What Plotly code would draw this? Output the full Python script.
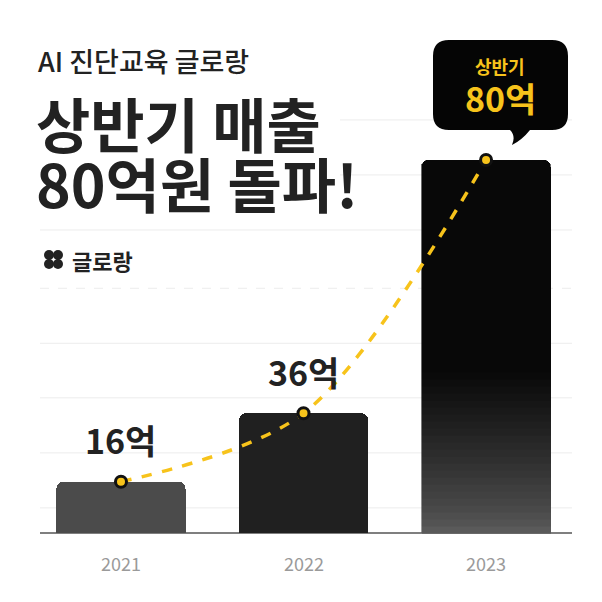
import plotly.graph_objects as go

years = ["2021", "2022", "2023"]
revenue = [16, 36, 80]              # 억, shown in labels
bar_height = [11, 25.7, 80]         # drawn heights (stylised)
label_text = ["16억", "36억"]

FONT = "Noto Sans CJK KR"
YELLOW = "#f7c31b"
X = [0, 1, 2]
OFF = 8  # page body margin


def px(x):
    return (x - OFF) / 602


def py(y):
    return 1 - (y - OFF) / 602


fig = go.Figure()

# bars: 2021 flat grey, 2022 dark, 2023 black with grey fade at bottom (stacked slices)
fig.add_trace(go.Bar(x=[0], y=[bar_height[0]], width=0.707, marker=dict(color="#4b4b4b", cornerradius=7, line_width=0),
                     hoverinfo="skip"))
fig.add_trace(go.Bar(x=[1], y=[bar_height[1]], width=0.707, marker=dict(color="#202020", cornerradius=7, line_width=0),
                     hoverinfo="skip"))
n = 24
fade_part = 0.45 * bar_height[2]
for i in range(n):
    t = i / (n - 1)
    g = int(0x5a - (0x5a - 0x08) * t ** 0.8)
    fig.add_trace(go.Bar(x=[2], y=[fade_part / n], width=0.707,
                         marker=dict(color=f"rgb({g},{g},{g})", line=dict(width=0.6, color=f"rgb({g},{g},{g})")),
                         hoverinfo="skip"))
fig.add_trace(go.Bar(x=[2], y=[bar_height[2] - fade_part], width=0.707,
                     marker=dict(color="#080808", cornerradius=9, line=dict(width=0.6, color="#080808")), hoverinfo="skip"))

# dashed growth curve with markers
fig.add_trace(go.Scatter(x=X, y=bar_height, mode="lines",
                         line=dict(color=YELLOW, width=3.5, dash="dash", shape="spline", smoothing=0.9),
                         hoverinfo="skip"))
fig.add_trace(go.Scatter(x=X, y=bar_height, mode="markers",
                         marker=dict(color=YELLOW, size=11, line=dict(color="#111", width=3)), hoverinfo="skip"))

# background guide lines
for v, x0, dash in [(88.6, 340, "solid"), (76.8, 340, "solid"), (65.0, 40, "solid"),
                    (52.5, 40, "dash"), (40.7, 40, "solid"), (29.0, 40, "solid"),
                    (17.2, 40, "solid"), (5.4, 40, "solid")]:
    fig.add_shape(type="line", xref="paper", yref="y", x0=px(x0), x1=px(572), y0=v, y1=v,
                  line=dict(color="#ececec", width=1, dash=dash), layer="below")
fig.add_shape(type="line", xref="paper", yref="y", x0=px(40), x1=px(572), y0=0, y1=0,
              line=dict(color="#555", width=1.5), layer="below")

# value labels
for xi, h, txt in zip(X[:2], bar_height[:2], label_text):
    fig.add_annotation(x=xi, y=h, yshift=42, text=f"<b>{txt}</b>", showarrow=False,
                       font=dict(family=FONT, size=34, color="#222"))

# year labels
for xi, yr in zip(X, years):
    fig.add_annotation(x=xi, y=-6.4, text=yr, showarrow=False, font=dict(family=FONT, size=18, color="#9a9a9a"))

# callout bubble (rounded rect + tail)
x0, x1, y0, y1, r = 433, 568, 40, 130, 16
bubble = (f"M {px(x0+r)} {py(y0)} L {px(x1-r)} {py(y0)} Q {px(x1)} {py(y0)} {px(x1)} {py(y0+r)} "
          f"L {px(x1)} {py(y1-r)} Q {px(x1)} {py(y1)} {px(x1-r)} {py(y1)} "
          f"L {px(530)} {py(y1)} Q {px(522)} {py(y1+10)} {px(512)} {py(y1+15)} Q {px(516)} {py(y1+6)} {px(510)} {py(y1)} "
          f"L {px(x0+r)} {py(y1)} Q {px(x0)} {py(y1)} {px(x0)} {py(y1-r)} "
          f"L {px(x0)} {py(y0+r)} Q {px(x0)} {py(y0)} {px(x0+r)} {py(y0)} Z")
fig.add_shape(type="path", xref="paper", yref="paper", path=bubble, fillcolor="#050505", line_width=0)


def note(x, y, text, size, color="#222", anchor="center", weight="normal"):
    fig.add_annotation(xref="paper", yref="paper", x=px(x), y=py(y), xanchor=anchor, yanchor="middle",
                       text=text, showarrow=False, font=dict(family=FONT, size=size, color=color, weight=weight))


note(500, 66, "<b>상반기</b>", 18, YELLOW)
note(500, 98, "<b>80억</b>", 34, YELLOW)

# headline texts
note(36, 60, "AI 진단교육 글로랑", 27, anchor="left", weight=500)
note(34, 122, "<b>상반기 매출</b>", 59, anchor="left")
note(34, 182, "<b>80억원 돌파!</b>", 59, anchor="left")
note(70, 260, "<b>글로랑</b>", 22, anchor="left")
for cx, cy in [(49, 255), (58, 255), (49, 264), (58, 264)]:
    fig.add_shape(type="circle", xref="paper", yref="paper", x0=px(cx-5), x1=px(cx+5),
                  y0=py(cy+5), y1=py(cy-5), fillcolor="#222", line_width=0)

fig.update_layout(
    width=602, height=602, margin=dict(l=0, r=0, t=0, b=0),
    paper_bgcolor="white", plot_bgcolor="white", barmode="stack", showlegend=False,
    xaxis=dict(range=[-0.619, 2.679], visible=False, fixedrange=True),
    yaxis=dict(range=[-16.5, 112.6], visible=False, fixedrange=True),
)

fig.write_html("out.html")
